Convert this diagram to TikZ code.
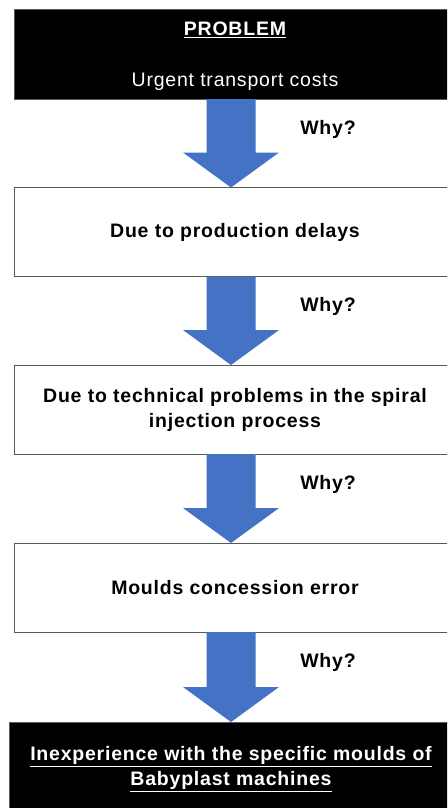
\documentclass[tikz,border=0pt]{standalone}
\usepackage{fontspec}
\setmainfont{Liberation Sans}[LetterSpace=4]
\usetikzlibrary{calc}
\definecolor{arrowblue}{HTML}{4472C4}
\definecolor{boxline}{HTML}{595959}
\tikzset{
  darkbox/.style={rectangle, fill=black, draw=boxline, line width=1pt, text=white,
    minimum width=442pt, outer sep=0pt, align=center, font=\fontsize{19.5}{25}\selectfont},
  lightbox/.style={rectangle, fill=white, draw=boxline, line width=1pt, text=black,
    minimum width=442pt, minimum height=89pt, outer sep=0pt, align=center,
    font=\fontsize{19.5}{25}\selectfont\bfseries},
  whylabel/.style={font=\fontsize{19.5}{22}\selectfont\bfseries, inner sep=0pt}
}
\newcommand\whyarrow[2]{%
  \fill[arrowblue] ($(#1.south -| cx)+(-24.5,0)$) -- ($(#2.north -| cx)+(-24.5,-35)$)
    -- ($(#2.north -| cx)+(-48,-35)$) -- (#2.north -| cx) -- ($(#2.north -| cx)+(48,-35)$)
    -- ($(#2.north -| cx)+(24.5,-35)$) -- ($(#1.south -| cx)+(24.5,0)$) -- cycle;
  \node[whylabel] (why#1) at ($(#1.south -| cx)+(97,30)$) {Why?};}
\begin{document}
\begin{tikzpicture}[x=1pt,y=-1pt]
\useasboundingbox (0,0) rectangle (447,808);
\clip (0,0) rectangle (447,808);
\fill[white] (0,0) rectangle (447,808);
\coordinate (cx) at (231,0);
\node[darkbox, minimum height=89pt] (b1) at (235,54.5) {};
\node[text=white, font=\fontsize{19.5}{25}\selectfont\bfseries, inner sep=0pt] (t1) at (235,29.5) {\underline{PROBLEM}};
\node[text=white, font=\fontsize{19.5}{25}\selectfont, inner sep=0pt] (t2) at (235,82) {Urgent transport costs};
\node[lightbox] (b2) at (235,232) {Due to production delays};
\node[lightbox] (b3) at (235,409.5) {Due to technical problems in the spiral\\injection process};
\node[lightbox] (b4) at (235,587.5) {Moulds concession error};
\node[darkbox, minimum width=444pt, minimum height=94pt, font=\fontsize{19.5}{25}\selectfont\bfseries] (b5) at (231,769)
  {\underline{Inexperience with the specific moulds of}\\\underline{Babyplast machines}};
\whyarrow{b1}{b2}
\whyarrow{b2}{b3}
\whyarrow{b3}{b4}
\whyarrow{b4}{b5}
\end{tikzpicture}
\end{document}
